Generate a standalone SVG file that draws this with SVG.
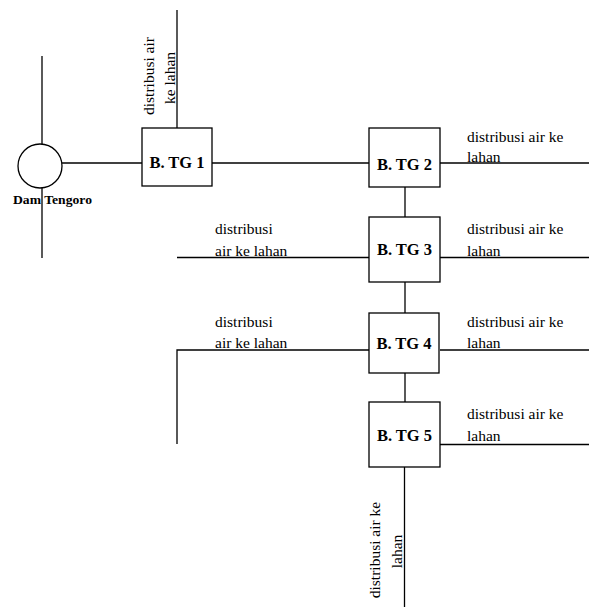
<svg xmlns="http://www.w3.org/2000/svg" width="589" height="607" viewBox="0 0 589 607">
<style>
.ln{stroke:#000;stroke-width:1.3;fill:none}
.bx{stroke:#000;stroke-width:1.3;fill:#fff}
text{font-family:'Liberation Serif',Tinos,'Times New Roman','Nimbus Roman','DejaVu Serif',serif;fill:#000}
.lbl{font-size:15.5px}
.nm{font-size:16.5px;font-weight:bold;text-anchor:middle}
.dam{font-size:11.5px;font-weight:bold}
</style>
<rect width="589" height="607" fill="#fff"/>
<g id="connectors">
<line class="ln" x1="42" y1="56" x2="42" y2="144"/>
<line class="ln" x1="42" y1="188" x2="42" y2="258"/>
<line class="ln" x1="62" y1="163" x2="142" y2="163"/>
<line class="ln" x1="177" y1="10" x2="177" y2="128"/>
<line class="ln" x1="212" y1="163" x2="369" y2="163"/>
<line class="ln" x1="440" y1="163" x2="589" y2="163"/>
<line class="ln" x1="405" y1="187" x2="405" y2="217"/>
<line class="ln" x1="177" y1="257.5" x2="369" y2="257.5"/>
<line class="ln" x1="440" y1="257.5" x2="589" y2="257.5"/>
<line class="ln" x1="405" y1="282" x2="405" y2="313"/>
<polyline class="ln" points="177,444 177,350 369,350"/>
<line class="ln" x1="440" y1="350" x2="589" y2="350"/>
<line class="ln" x1="405" y1="373" x2="405" y2="402"/>
<line class="ln" x1="440" y1="444.5" x2="589" y2="444.5"/>
<line class="ln" x1="404.5" y1="467" x2="404.5" y2="607"/>
</g>
<g id="dam">
<circle class="bx" cx="40" cy="166" r="22"/>
<text class="dam" x="13" y="204" textLength="79" lengthAdjust="spacingAndGlyphs">Dam Tengoro</text>
</g>
<g id="btg1">
<rect class="bx" x="142" y="128" width="70" height="58"/>
<text class="nm" x="177" y="168">B. TG 1</text>
<text class="lbl" text-anchor="middle" transform="translate(154,76) rotate(-90)">distribusi air</text>
<text class="lbl" text-anchor="middle" transform="translate(175,78) rotate(-90)">ke lahan</text>
</g>
<g id="btg2">
<rect class="bx" x="369" y="128" width="71" height="59"/>
<text class="nm" x="404.5" y="170">B. TG 2</text>
<text class="lbl" x="467" y="141.5">distribusi air ke</text>
<text class="lbl" x="467" y="161.5">lahan</text>
</g>
<g id="btg3">
<rect class="bx" x="369" y="217" width="71" height="65"/>
<text class="nm" x="404.5" y="255">B. TG 3</text>
<text class="lbl" x="467" y="234">distribusi air ke</text>
<text class="lbl" x="467" y="255.5">lahan</text>
<text class="lbl" x="215" y="234">distribusi</text>
<text class="lbl" x="215" y="255.5">air ke lahan</text>
</g>
<g id="btg4">
<rect class="bx" x="369" y="313" width="70" height="60"/>
<text class="nm" x="404" y="349">B. TG 4</text>
<text class="lbl" x="467" y="327">distribusi air ke</text>
<text class="lbl" x="467" y="348">lahan</text>
<text class="lbl" x="215" y="327">distribusi</text>
<text class="lbl" x="215" y="348">air ke lahan</text>
</g>
<g id="btg5">
<rect class="bx" x="369" y="402" width="71" height="65"/>
<text class="nm" x="404.5" y="441">B. TG 5</text>
<text class="lbl" x="467" y="418.5">distribusi air ke</text>
<text class="lbl" x="467" y="440.5">lahan</text>
<text class="lbl" text-anchor="middle" transform="translate(380,550) rotate(-90)">distribusi air ke</text>
<text class="lbl" text-anchor="middle" transform="translate(401.5,551.5) rotate(-90)">lahan</text>
</g>
</svg>
